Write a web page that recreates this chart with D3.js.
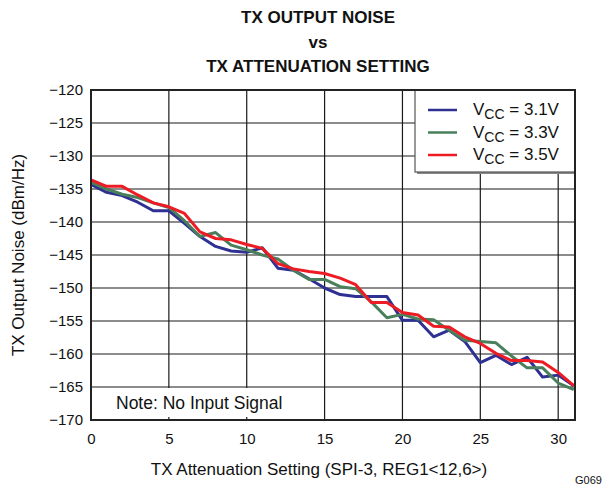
<!DOCTYPE html>
<html>
<head>
<meta charset="utf-8">
<script src="https://cdn.jsdelivr.net/npm/d3@7"></script>
<style>
  body { margin: 0; background: #fff; }
  svg { display: block; font-family: "Liberation Sans", Arial, sans-serif; }
</style>
</head>
<body>
<svg id="chart" width="605" height="491"></svg>
<script>
// TX attenuation setting (x) and output noise in dBm/Hz for each supply voltage
const settings = d3.range(0, 32);
const vcc31 = [-134.3, -135.5, -136.0, -137.0, -138.3, -138.3, -140.2, -142.2, -143.7, -144.4, -144.6, -143.9,
  -147.0, -147.3, -148.6, -150.0, -151.0, -151.3, -151.3, -151.3, -154.9, -154.9, -157.4, -156.4,
  -158.1, -161.3, -160.2, -161.6, -160.5, -163.5, -163.2, -164.8];
const vcc33 = [-134.0, -135.0, -135.8, -136.3, -137.1, -137.8, -139.8, -142.2, -141.6, -143.5, -144.2, -145.0,
  -145.6, -147.3, -148.7, -148.7, -149.8, -150.1, -152.1, -154.5, -154.0, -154.7, -154.8, -156.4,
  -157.9, -158.1, -158.3, -160.3, -162.1, -162.1, -164.4, -165.4];
const vcc35 = [-133.6, -134.6, -134.6, -135.9, -137.1, -137.7, -138.7, -141.5, -142.5, -142.7, -143.4, -144.0,
  -146.3, -147.1, -147.5, -147.8, -148.5, -149.5, -152.2, -152.2, -153.7, -154.1, -155.8, -155.9,
  -157.4, -158.4, -159.9, -161.0, -161.0, -161.2, -162.8, -164.8];

const seriesNames = ["3.1V", "3.3V", "3.5V"];
const seriesColors = ["#2E3192", "#4A7F5C", "#ED1C24"];
const seriesValues = [vcc31, vcc33, vcc35];

const xTicks = [0, 5, 10, 15, 20, 25, 30];
const yTicks = [-120, -125, -130, -135, -140, -145, -150, -155, -160, -165, -170];

const titleLines = ["TX OUTPUT NOISE", "vs", "TX ATTENUATION SETTING"];
const xTitle = "TX Attenuation Setting (SPI-3, REG1<12,6>)";
const yTitle = "TX Output Noise (dBm/Hz)";
const noteText = "Note: No Input Signal";
const figId = "G069";

const svg = d3.select("#chart");
const plot = { left: 91, right: 575, top: 90, bottom: 420 };

const x = d3.scaleLinear().domain([0, 31.08]).range([plot.left, plot.right]);
const y = d3.scaleLinear().domain([-170, -120]).range([plot.bottom, plot.top]);

// Title
svg.append("g").selectAll("text").data(titleLines).join("text")
  .attr("x", 318).attr("y", (d, i) => 23 + i * 24.5)
  .attr("text-anchor", "middle")
  .attr("font-weight", "bold").attr("font-size", 17)
  .attr("fill", "#111")
  .text(d => d);

// Grid
const grid = svg.append("g").attr("stroke", "#1a1a1a").attr("stroke-width", 1.2);
grid.selectAll("line.v").data(xTicks.filter(t => t > 0)).join("line")
  .attr("x1", d => x(d)).attr("x2", d => x(d))
  .attr("y1", plot.top).attr("y2", plot.bottom);
grid.selectAll("line.h").data(yTicks.filter(t => t > -170 && t < -120)).join("line")
  .attr("x1", plot.left).attr("x2", plot.right)
  .attr("y1", d => y(d)).attr("y2", d => y(d));

// Note box
svg.append("rect").attr("x", plot.left + 1).attr("y", y(-165) + 1)
  .attr("width", 210).attr("height", plot.bottom - y(-165) - 2).attr("fill", "#fff");
svg.append("g").attr("stroke", "#1a1a1a").attr("stroke-width", 1.2)
  .selectAll("line").data(xTicks.filter(t => t > 0 && x(t) < plot.left + 212)).join("line")
  .attr("x1", d => x(d)).attr("x2", d => x(d))
  .attr("y1", plot.bottom - 3).attr("y2", plot.bottom);
svg.append("text").attr("x", 116).attr("y", 409)
  .attr("font-size", 17.5).attr("fill", "#111").text(noteText);

// Series lines
const line = d3.line().x((d, i) => x(settings[i])).y(d => y(d));
svg.append("g").selectAll("path").data(seriesValues).join("path")
  .attr("d", d => line(d))
  .attr("fill", "none")
  .attr("stroke", (d, i) => seriesColors[i])
  .attr("stroke-width", 3)
  .attr("stroke-linejoin", "round");

// Legend
const lg = svg.append("g");
lg.append("rect").attr("x", 417).attr("y", plot.top + 2).attr("width", plot.right - 417).attr("height", 82)
  .attr("fill", "#888");
lg.append("rect").attr("x", 415).attr("y", plot.top).attr("width", plot.right - 415).attr("height", 82)
  .attr("fill", "#fff").attr("stroke", "#555").attr("stroke-width", 1.2);
seriesNames.forEach((name, i) => {
  const ly = 110 + i * 22.5;
  lg.append("line").attr("x1", 428).attr("x2", 457).attr("y1", ly).attr("y2", ly)
    .attr("stroke", seriesColors[i]).attr("stroke-width", 2.5);
  const t = lg.append("text").attr("x", 473).attr("y", ly + 5).attr("font-size", 17).attr("fill", "#111");
  t.append("tspan").text("V");
  t.append("tspan").attr("dy", 4).attr("font-size", 14).text("CC");
  t.append("tspan").attr("dy", -4).text(" = " + name);
});

// Axes frame
svg.append("rect").attr("x", plot.left).attr("y", plot.top)
  .attr("width", plot.right - plot.left).attr("height", plot.bottom - plot.top)
  .attr("fill", "none").attr("stroke", "#222").attr("stroke-width", 2);

// Axis tick labels
const xAxis = d3.axisBottom(x).tickValues(xTicks).tickSize(0).tickPadding(13);
svg.append("g").attr("transform", `translate(0,${plot.bottom})`).call(xAxis)
  .call(g => g.select(".domain").remove())
  .call(g => g.selectAll("text").attr("font-size", 15).attr("fill", "#111")
    .attr("font-family", "Liberation Sans, Arial, sans-serif"));

const yAxis = d3.axisLeft(y).tickValues(yTicks).tickSize(0).tickPadding(8)
  .tickFormat(d => String(d).replace("-", "\u2212"));
svg.append("g").attr("transform", `translate(${plot.left},0)`).call(yAxis)
  .call(g => g.select(".domain").remove())
  .call(g => g.selectAll("text").attr("font-size", 15).attr("fill", "#111")
    .attr("font-family", "Liberation Sans, Arial, sans-serif"));

// Axis titles
svg.append("text").attr("x", 319).attr("y", 475).attr("text-anchor", "middle")
  .attr("font-size", 17).attr("fill", "#111").text(xTitle);
svg.append("text").attr("transform", `translate(24,${(plot.top + plot.bottom) / 2}) rotate(-90)`)
  .attr("text-anchor", "middle").attr("font-size", 17).attr("fill", "#111").text(yTitle);

// Figure id
svg.append("text").attr("x", 575).attr("y", 484).attr("font-size", 11).attr("fill", "#111").text(figId);
</script>
</body>
</html>
